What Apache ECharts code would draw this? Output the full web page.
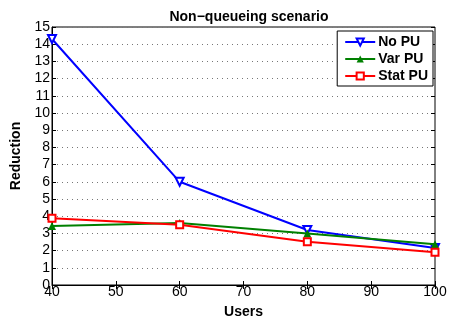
<!DOCTYPE html>
<html>
<head>
<meta charset="utf-8">
<script src="https://cdn.jsdelivr.net/npm/echarts@6/dist/echarts.min.js"></script>
<style>
html, body { margin: 0; padding: 0; background: #fff; }
#container { width: 451px; height: 327px; }
</style>
</head>
<body>
<div id="container"></div>
<script>
var dom = document.getElementById("container");
var myChart = echarts.init(dom);

var users = [40, 60, 80, 100];
var noPU = [14.3, 6.0, 3.2, 2.15];
var varPU = [3.43, 3.6, 3.0, 2.37];
var statPU = [3.88, 3.5, 2.52, 1.9];

function pairs(v) {
    return users.map(function (u, i) { return [u, v[i]]; });
}

var font = 'Liberation Sans, Arial, sans-serif';

var option = {
    backgroundColor: '#fff',
    animation: false,
    title: {
        text: 'Non\u2212queueing scenario',
        left: 244,
        textAlign: 'center',
        top: 5,
        textStyle: { fontFamily: font, fontSize: 14, fontWeight: 'bold', color: '#000' }
    },
    grid: {
        left: 52,
        right: 16,
        top: 27,
        bottom: 42,
        show: true,
        borderColor: '#000',
        borderWidth: 1
    },
    legend: {
        right: 18,
        top: 31,
        orient: 'vertical',
        backgroundColor: '#fff',
        borderColor: '#000',
        borderWidth: 1,
        padding: [4, 5, 3, 7],
        itemGap: 3,
        itemWidth: 30,
        itemHeight: 9,
        textStyle: { fontFamily: font, fontSize: 14, fontWeight: 'bold', color: '#000', padding: [0, 0, 0, -2], lineHeight: 14 },
        data: ['No PU', 'Var PU', 'Stat PU']
    },
    xAxis: [{
        type: 'value',
        min: 40,
        max: 100,
        interval: 10,
        name: 'Users',
        nameLocation: 'middle',
        nameGap: 20,
        nameTextStyle: { fontFamily: font, fontSize: 14, fontWeight: 'bold', color: '#000' },
        axisLine: { lineStyle: { color: '#000' } },
        axisTick: { inside: true, length: 4, lineStyle: { color: '#000' } },
        axisLabel: { fontFamily: font, fontSize: 14, color: '#000', margin: 0 },
        splitLine: { show: false }
    }, {
        type: 'value',
        position: 'top',
        min: 40,
        max: 100,
        interval: 10,
        axisLine: { show: false },
        axisTick: { inside: true, length: 4, lineStyle: { color: '#000' } },
        axisLabel: { show: false },
        splitLine: { show: false }
    }],
    yAxis: [{
        type: 'value',
        min: 0,
        max: 15,
        interval: 1,
        name: 'Reduction',
        nameLocation: 'middle',
        nameGap: 25,
        nameTextStyle: { fontFamily: font, fontSize: 14, fontWeight: 'bold', color: '#000' },
        axisLine: { show: true, lineStyle: { color: '#000' } },
        axisTick: { show: true, inside: true, length: 4, lineStyle: { color: '#000' } },
        axisLabel: { fontFamily: font, fontSize: 14, color: '#000', margin: 2 },
        splitLine: { show: true, lineStyle: { color: '#777', type: [1, 4], width: 1 } }
    }, {
        type: 'value',
        position: 'right',
        min: 0,
        max: 15,
        interval: 1,
        axisLine: { show: false },
        axisTick: { show: true, inside: true, length: 4, lineStyle: { color: '#000' } },
        axisLabel: { show: false },
        splitLine: { show: false }
    }],
    series: [{
        name: 'No PU',
        type: 'line',
        data: pairs(noPU),
        symbol: 'emptyTriangle',
        symbolRotate: 180,
        symbolSize: 8,
        color: '#0000ff',
        lineStyle: { width: 2 },
        itemStyle: { borderWidth: 1.5 },
        z: 3
    }, {
        name: 'Var PU',
        type: 'line',
        data: pairs(varPU),
        symbol: 'triangle',
        symbolSize: 8,
        color: '#008000',
        lineStyle: { width: 2 },
        z: 4
    }, {
        name: 'Stat PU',
        type: 'line',
        data: pairs(statPU),
        symbol: 'emptyRect',
        symbolSize: 7,
        color: '#ff0000',
        lineStyle: { width: 2 },
        itemStyle: { borderWidth: 1.5 },
        z: 5
    }]
};

myChart.setOption(option);
</script>
</body>
</html>
